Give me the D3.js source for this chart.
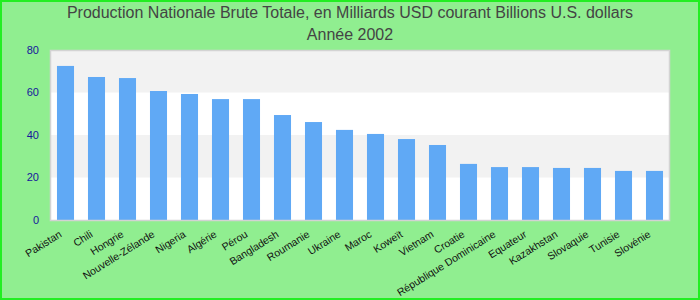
<!DOCTYPE html>
<html>
<head>
<meta charset="utf-8">
<script src="https://cdn.jsdelivr.net/npm/d3@7"></script>
<style>
  body { margin: 0; }
  svg { display: block; }
</style>
</head>
<body>
<div id="chart"></div>
<script>
// data
var titleLines = ["Production Nationale Brute Totale, en Milliards USD courant Billions U.S. dollars", "Année 2002"];
var countries = ["Pakistan", "Chili", "Hongrie", "Nouvelle-Zélande", "Nigeria", "Algérie", "Pérou",
  "Bangladesh", "Roumanie", "Ukraine", "Maroc", "Koweït", "Vietnam", "Croatie",
  "République Dominicaine", "Equateur", "Kazakhstan", "Slovaquie", "Tunisie", "Slovénie"];
var values = [72.5, 67.3, 66.8, 60.7, 59.3, 56.9, 56.9, 49.4, 46.1, 42.4, 40.5, 38.1, 35.3,
  26.4, 24.9, 24.9, 24.5, 24.5, 23.1, 23.1];
var yTicks = [0, 20, 40, 60, 80];

var width = 700, height = 300;
var plotLeft = 50, plotRight = 670, plotTop = 50, plotBottom = 220;

var svg = d3.select("#chart").append("svg")
    .attr("width", width)
    .attr("height", height);

// background + outer border
svg.append("rect")
    .attr("x", 1).attr("y", 1)
    .attr("width", width - 2).attr("height", height - 2)
    .style("fill", "#90ee90")
    .style("stroke", "#22ee22")
    .style("stroke-width", 2);

var x = d3.scaleBand().domain(countries).range([plotLeft, plotRight]).paddingInner(0.45).paddingOuter(0.225);
var y = d3.scaleLinear().domain([0, 80]).range([plotBottom, plotTop]);

// plot area with alternating bands
svg.append("rect")
    .attr("x", plotLeft).attr("y", plotTop)
    .attr("width", plotRight - plotLeft).attr("height", plotBottom - plotTop)
    .style("fill", "#ffffff");

svg.selectAll("rect.band")
    .data(d3.pairs(yTicks).filter(function(p, i) { return i % 2 == 1; }))
    .enter().append("rect")
    .attr("class", "band")
    .attr("x", plotLeft)
    .attr("y", function(p) { return y(p[1]); })
    .attr("width", plotRight - plotLeft)
    .attr("height", function(p) { return y(p[0]) - y(p[1]); })
    .style("fill", "#f2f2f2");

svg.selectAll("rect.bar")
    .data(values)
    .enter().append("rect")
    .attr("class", "bar")
    .attr("x", function(d, i) { return x(countries[i]); })
    .attr("y", function(d) { return y(d); })
    .attr("width", x.bandwidth())
    .attr("height", function(d) { return y(0) - y(d); })
    .style("fill", "#60a9f5");

svg.append("rect")
    .attr("x", plotLeft + 0.5).attr("y", plotTop + 0.5)
    .attr("width", plotRight - plotLeft - 1).attr("height", plotBottom - plotTop)
    .style("fill", "none")
    .style("stroke", "#d3d3d3")
    .style("stroke-width", 1.5);

// y axis labels
svg.selectAll("text.ytick")
    .data(yTicks)
    .enter().append("text")
    .attr("class", "ytick")
    .attr("x", 39)
    .attr("y", function(d) { return y(d); })
    .attr("dy", "0.35em")
    .attr("text-anchor", "end")
    .style("font-family", "Liberation Sans, Arial, sans-serif")
    .style("font-size", "11px")
    .style("fill", "#16169c")
    .text(function(d) { return d; });

// x axis labels
svg.selectAll("text.xtick")
    .data(countries)
    .enter().append("text")
    .attr("class", "xtick")
    .attr("transform", function(d) {
        return "translate(" + (x(d) + x.bandwidth() / 2 - 5) + "," + 233 + ") rotate(-32)";
    })
    .attr("dy", "0.35em")
    .attr("text-anchor", "end")
    .style("font-family", "Liberation Sans, Arial, sans-serif")
    .style("font-size", "10.5px")
    .style("fill", "#111")
    .text(function(d) { return d; });

// title
svg.selectAll("text.title")
    .data(titleLines)
    .enter().append("text")
    .attr("class", "title")
    .attr("x", 350)
    .attr("y", function(d, i) { return 18 + i * 22; })
    .attr("text-anchor", "middle")
    .style("font-family", "Liberation Sans, Arial, sans-serif")
    .style("font-size", "16px")
    .style("fill", "#444")
    .text(function(d) { return d; });
</script>
</body>
</html>
